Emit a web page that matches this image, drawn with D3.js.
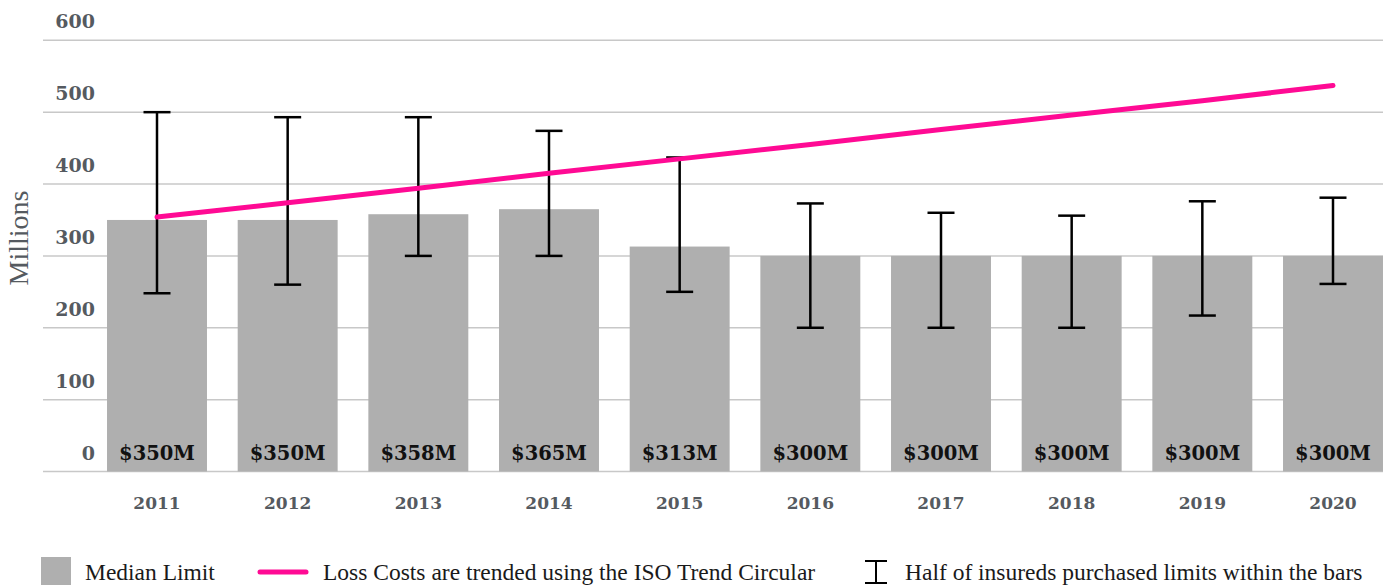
<!DOCTYPE html>
<html><head><meta charset="utf-8">
<script src="https://cdn.jsdelivr.net/npm/d3@7"></script>
<style>html,body{margin:0;padding:0;background:#fff;}svg{display:block;}</style>
</head><body>
<svg id="chart" width="1393" height="585"></svg>
<script>
const years = ["2011","2012","2013","2014","2015","2016","2017","2018","2019","2020"];
const medianLimit = [350,350,358,365,313,300,300,300,300,300];
const barLabels = ["$350M","$350M","$358M","$365M","$313M","$300M","$300M","$300M","$300M","$300M"];
const rangeLow = [248,260,300,300,250,200,200,200,217,261];
const rangeHigh = [500,493,493,474,437,373,360,356,376,381];
const trendValues = [354,374,394,415,435,455,476,496,516,537];
const yTicks = [0,100,200,300,400,500,600];
const legendLabels = ["Median Limit","Loss Costs are trended using the ISO Trend Circular","Half of insureds purchased limits within the bars"];

const svg = d3.select("#chart");
const y = d3.scaleLinear().domain([0,600]).range([471.5,40.3]);
const x = d3.scalePoint().domain(years).range([157,1333]);
const barW = x.step()*0.765;
const gridX0 = 43, gridX1 = 1383;
const serifBold = "'DejaVu Serif', serif";
const serif = "'Liberation Serif', 'DejaVu Serif', serif";

// gridlines
svg.append("g").selectAll("line").data(yTicks).join("line")
  .attr("x1",gridX0).attr("x2",gridX1)
  .attr("y1",d=>y(d)).attr("y2",d=>y(d))
  .attr("stroke","#c8c8c8").attr("stroke-width",1.5);

// y tick labels
svg.append("g").selectAll("text").data(yTicks).join("text")
  .attr("x",95).attr("y",d=>y(d)-12)
  .attr("text-anchor","end")
  .attr("font-family",serifBold).attr("font-weight","bold").attr("font-size",19)
  .attr("fill","#555a60").text(d=>d);

// y title
svg.append("text")
  .attr("transform","translate(28,238) rotate(-90)")
  .attr("text-anchor","middle")
  .attr("font-family",serif).attr("font-size",28).attr("fill","#555a60")
  .text("Millions");

// bars
svg.append("g").selectAll("rect").data(years).join("rect")
  .attr("x",d=>x(d)-barW/2).attr("width",barW)
  .attr("y",(d,i)=>y(medianLimit[i]))
  .attr("height",(d,i)=>y(0)-y(medianLimit[i]))
  .attr("fill","#afafaf");

// bar value labels
svg.append("g").selectAll("text").data(years).join("text")
  .attr("x",d=>x(d)).attr("y",y(0)-12)
  .attr("text-anchor","middle")
  .attr("font-family",serifBold).attr("font-weight","bold").attr("font-size",19.5)
  .attr("fill","#111").text((d,i)=>barLabels[i]);

// x labels
svg.append("g").selectAll("text").data(years).join("text")
  .attr("x",d=>x(d)).attr("y",509)
  .attr("text-anchor","middle")
  .attr("font-family",serifBold).attr("font-weight","bold").attr("font-size",17)
  .attr("fill","#555a60").text(d=>d);

// error bars
const capW = 27;
const eb = svg.append("g").attr("stroke","#000").attr("stroke-width",2.5);
years.forEach((d,i)=>{
  const cx = x(d);
  eb.append("line").attr("x1",cx).attr("x2",cx).attr("y1",y(rangeLow[i])).attr("y2",y(rangeHigh[i]));
  eb.append("line").attr("x1",cx-capW/2).attr("x2",cx+capW/2).attr("y1",y(rangeLow[i])).attr("y2",y(rangeLow[i]));
  eb.append("line").attr("x1",cx-capW/2).attr("x2",cx+capW/2).attr("y1",y(rangeHigh[i])).attr("y2",y(rangeHigh[i]));
});

// trend line
const line = d3.line().x((d,i)=>x(years[i])).y(d=>y(d));
svg.append("path").datum(trendValues).attr("d",line)
  .attr("fill","none").attr("stroke","#ff0a94").attr("stroke-width",5)
  .attr("stroke-linecap","round");

// legend
const lgSize = 23.5;
const lg = svg.append("g");
lg.append("rect").attr("x",41).attr("y",557).attr("width",30).attr("height",30).attr("fill","#afafaf");
lg.append("text").attr("x",85).attr("y",580).attr("font-family",serif).attr("font-size",lgSize).attr("fill","#1a1a1a").text(legendLabels[0]);
lg.append("line").attr("x1",260).attr("x2",306).attr("y1",572).attr("y2",572)
  .attr("stroke","#ff0a94").attr("stroke-width",5).attr("stroke-linecap","round");
lg.append("text").attr("x",323).attr("y",580).attr("font-family",serif).attr("font-size",lgSize).attr("fill","#1a1a1a").text(legendLabels[1]);
const ix = 876;
lg.append("line").attr("x1",ix).attr("x2",ix).attr("y1",561).attr("y2",583).attr("stroke","#000").attr("stroke-width",2);
lg.append("line").attr("x1",ix-11).attr("x2",ix+11).attr("y1",561).attr("y2",561).attr("stroke","#000").attr("stroke-width",2);
lg.append("line").attr("x1",ix-11).attr("x2",ix+11).attr("y1",583).attr("y2",583).attr("stroke","#000").attr("stroke-width",2);
lg.append("text").attr("x",905).attr("y",580).attr("font-family",serif).attr("font-size",lgSize).attr("fill","#1a1a1a").text(legendLabels[2]);
</script>
</body></html>
